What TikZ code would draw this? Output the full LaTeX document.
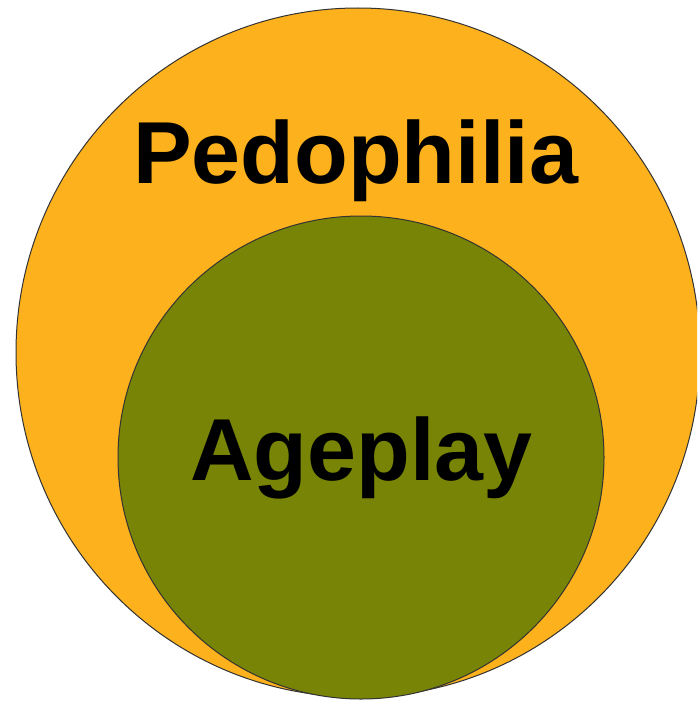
\documentclass[tikz,border=0pt]{standalone}
\usepackage{fontspec}
\setmainfont{Liberation Sans}
\usetikzlibrary{shapes.geometric}
\definecolor{setorange}{HTML}{FDB11C}
\definecolor{setgreen}{HTML}{788405}
\definecolor{edgegray}{HTML}{333333}
\tikzset{
  setblob/.style={ellipse, draw=edgegray, line width=1pt, inner sep=0pt},
  setlabel/.style={anchor=base, inner sep=0pt, font=\fontsize{88}{90}\selectfont\bfseries, text=black}
}
\begin{document}
\begin{tikzpicture}[x=1pt, y=-1pt]
  \useasboundingbox (0,0) rectangle (697,701);
  \clip (0,0) rectangle (697,701);
  \fill[white] (0,0) rectangle (697,701);
  \node[setblob, fill=setorange, minimum width=684pt, minimum height=689pt] (outer) at (358,352.5) {};
  \node[setblob, fill=setgreen, minimum width=486pt, minimum height=483pt] (inner) at (361,457.5) {};
  \node[setlabel] (pedo) at (355.5,183) {Pedophilia};
  \node[setlabel] (age) at (361.5,480) {Ageplay};
\end{tikzpicture}
\end{document}
